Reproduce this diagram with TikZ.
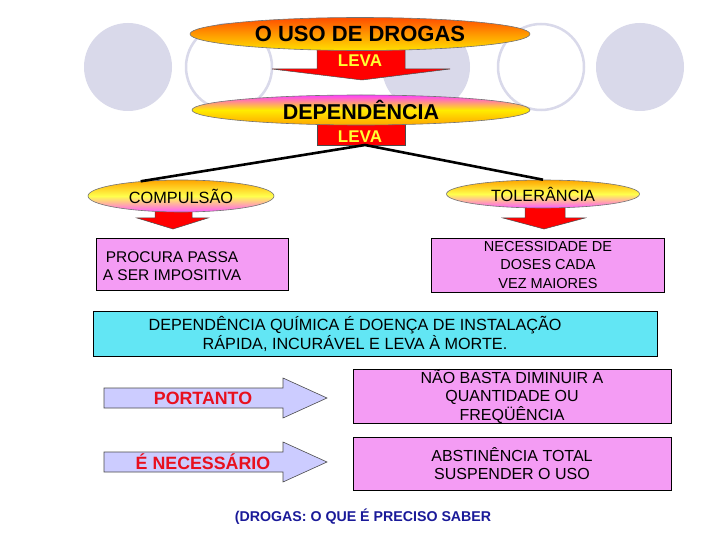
\documentclass[tikz,border=0pt]{standalone}
\usepackage{fontspec}
\setmainfont{Liberation Sans}
\usetikzlibrary{calc,positioning,shapes.geometric}
\definecolor{CircleLilac}{HTML}{D9D9EA}
\definecolor{LevaRed}{HTML}{FF0000}
\definecolor{LevaYellow}{HTML}{FFFF33}
\definecolor{OrchidPink}{HTML}{F49CF4}
\definecolor{AquaCyan}{HTML}{62E6F4}
\definecolor{ArrowLilac}{HTML}{CCCCFF}
\definecolor{FootBlue}{HTML}{1A1A99}
\definecolor{WordRed}{HTML}{E8101E}

\begin{document}
\begin{tikzpicture}[x=1pt,y=-1pt,
      disc/.style={fill=CircleLilac},
      ring/.style={draw=CircleLilac,line width=2.5pt},
      lens/.style={ellipse,draw=black!55,line width=0.6pt,inner sep=0pt},
      fire/.style={lens,top color=orange!60!red,bottom color=yellow!75!orange,middle color=orange!80!yellow,
      font=\fontsize{22}{24}\selectfont\bfseries},
      rose/.style={lens,top color=magenta!75,bottom color=orange!70!yellow,middle color=yellow!85!orange,
      font=\fontsize{21.5}{24}\selectfont\bfseries},
      petal/.style={lens,top color=orange!70!yellow,bottom color=magenta!65,middle color=yellow!70,
      font=\fontsize{16.3}{18}\selectfont},
      redarr/.style={fill=LevaRed,draw=black!70,line width=0.5pt},
      leva/.style={text=LevaYellow,font=\fontsize{17}{19}\selectfont\bfseries},
      pinkbox/.style={draw=black,line width=0.6pt,fill=OrchidPink,inner sep=0pt},
      txt/.style={align=center,font=\fontsize{15.5}{18.5}\selectfont},
      bluearr/.style={fill=ArrowLilac,draw=black!70,line width=0.6pt},
      word/.style={text=WordRed,font=\fontsize{17.8}{20}\selectfont\bfseries}]
      \useasboundingbox (0,0) rectangle (720,540);
      \fill[white] (0,0) rectangle (720,540);
      \fill[disc] (128,67) circle (44);
      \draw[ring] (229,67) circle (43);
      \fill[disc] (426,67) circle (44);
      \draw[ring] (541,67) circle (43);
      \fill[disc] (640,67) circle (44);
      \draw[redarr] (317,45)--(405,45)--(405,69)--(450,69)--(362,80)--(272,69)--(317,69)--cycle;
      \fill[LevaRed] (317,118) rectangle (405,145);
      \draw[black!70,line width=0.5pt] (317,118)--(317,145)--(405,145)--(405,118);
      \draw[redarr] (155,205)--(192,205)--(192,218)--(208,218)--(173,229)--(137,218)--(155,218)--cycle;
      \draw[redarr] (525,203)--(565,203)--(565,218)--(585,218)--(544,229)--(503,218)--(525,218)--cycle;
      \node[fire,minimum width=340pt,minimum height=33pt] (uso) at (360,34) {O USO DE DROGAS};
      \node[leva] (leva1) at (360,61) {LEVA};
      \node[rose,minimum width=338pt,minimum height=30pt] (dep) at (361,110) {DEPENDÊNCIA};
      \node[petal,minimum width=186pt,minimum height=32pt] (comp) at (181,196) {COMPULSÃO};
      \node[petal,minimum width=193pt,minimum height=28pt] (tol) at (543,194) {TOLERÂNCIA};
      \coordinate (apex) at (365,145);
      \draw[line width=2.6pt] (comp.160)--(apex)--(tol.north);
      \node[leva] (leva2) at (360,137) {LEVA};
      \node[pinkbox,minimum width=192pt,minimum height=52pt] (procura) at (192,264) {};
      \node[txt] at ($(procura.center)+(-20,2)$) {PROCURA PASSA\\A SER IMPOSITIVA};
      \node[pinkbox,minimum width=233pt,minimum height=54pt,txt,font=\fontsize{14.5}{18.5}\selectfont] (doses) at (548,265) {NECESSIDADE DE\\DOSES CADA\\VEZ MAIORES};
      \node[pinkbox,fill=AquaCyan,minimum width=564pt,minimum height=45pt] (quimica) at (375,334) {};
      \node[txt,font=\fontsize{16.2}{19}\selectfont] at ($(quimica.center)+(-20,0)$) {DEPENDÊNCIA QUÍMICA É DOENÇA DE INSTALAÇÃO\\RÁPIDA, INCURÁVEL E LEVA À MORTE.};
      \draw[bluearr] (104,388)--(283,388)--(283,378)--(327,398)--(283,418)--(283,408)--(104,408)--cycle;
      \node[word] (portanto) at (203,398) {PORTANTO};
      \draw[bluearr] (104,452)--(283,452)--(283,442)--(327,462)--(283,482)--(283,472)--(104,472)--cycle;
      \node[word] (necessario) at (203,462) {É NECESSÁRIO};
      \node[pinkbox,minimum width=318pt,minimum height=54pt,txt,font=\fontsize{16}{18.5}\selectfont] (basta) at (512,396) {NÃO BASTA DIMINUIR A\\QUANTIDADE OU\\FREQÜÊNCIA};
      \node[pinkbox,minimum width=318pt,minimum height=53pt,txt,font=\fontsize{16}{18.5}\selectfont] (abst) at (512,463.5) {ABSTINÊNCIA TOTAL\\SUSPENDER O USO};
      \node[text=FootBlue,font=\fontsize{14.2}{16}\selectfont\bfseries] (fonte) at (363,517) {(DROGAS: O QUE É PRECISO SABER};
    \end{tikzpicture}
\end{document}
